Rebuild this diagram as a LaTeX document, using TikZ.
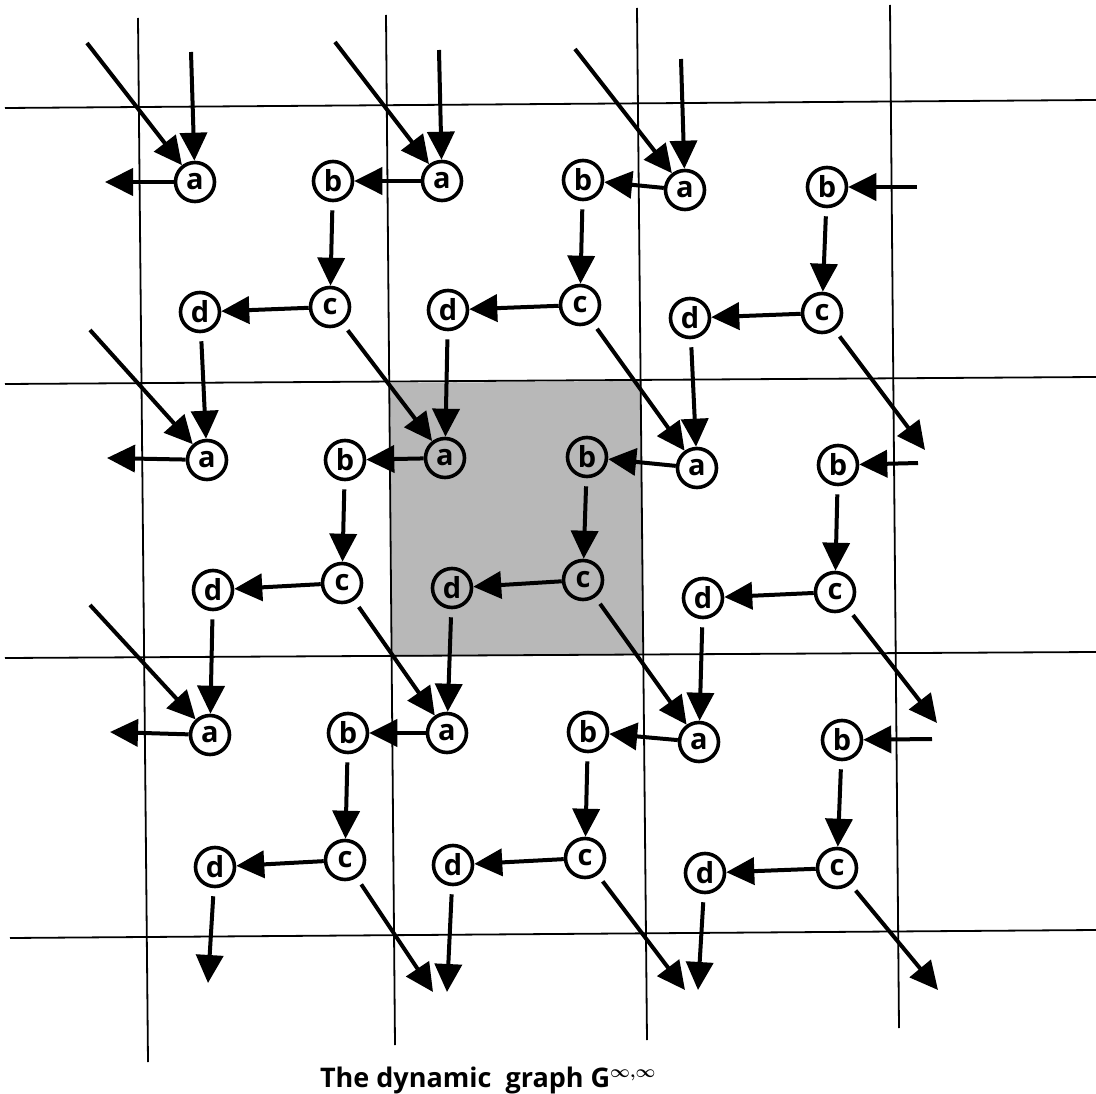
\documentclass[tikz,border=0pt]{standalone}
\usepackage{fontspec}
\setmainfont{Open Sans}
\usetikzlibrary{arrows.meta}
\begin{document}
\begin{tikzpicture}[x=1pt,y=-1pt,
  vx/.style={circle,draw,line width=3.6pt,minimum size=39pt,inner sep=0pt,font=\bfseries\fontsize{29}{29}\selectfont},
  edge/.style={line width=4pt,-{Triangle[length=28pt 0 0,width=27pt 0 0]}},
  gap/.style={shorten <=8pt},
  gridline/.style={line width=1.8pt},
  shade/.style={fill=black!28}]
\useasboundingbox (0,0) rectangle (1096,1094);
% shaded cell
\fill[shade] (390,383) -- (641,381) -- (643,655) -- (392,657) -- cycle;
% grid
\draw[gridline] (138,18) -- (148,1062);
\draw[gridline] (386,15) -- (395,1045);
\draw[gridline] (637,8) -- (647,1040);
\draw[gridline] (890,5) -- (899,1028);
\draw[gridline] (5,108) -- (1096,100);
\draw[gridline] (5,384) -- (1096,377);
\draw[gridline] (5,658) -- (1096,652);
\draw[gridline] (10,938) -- (1096,930);
% nodes
\node[vx] (a1) at (195,182) {a};
\node[vx] (b1) at (333,181) {b};
\node[vx] (a2) at (442,181) {a};
\node[vx] (b2) at (583,180) {b};
\node[vx] (a3) at (685,190) {a};
\node[vx] (b3) at (827,187) {b};
\node[vx] (d1) at (200,312) {d};
\node[vx] (c1) at (330,307) {c};
\node[vx] (d2) at (448,310) {d};
\node[vx] (c2) at (580,305) {c};
\node[vx] (d3) at (690,318) {d};
\node[vx] (c3) at (822,313) {c};
\node[vx] (a4) at (207,460) {a};
\node[vx] (b4) at (345,460) {b};
\node[vx] (a5) at (445,458) {a};
\node[vx] (b5) at (587,457) {b};
\node[vx] (a6) at (697,468) {a};
\node[vx] (b6) at (838,465) {b};
\node[vx] (d4) at (213,590) {d};
\node[vx] (c4) at (342,583) {c};
\node[vx] (d5) at (452,588) {d};
\node[vx] (c5) at (583,580) {c};
\node[vx] (d6) at (703,598) {d};
\node[vx] (c6) at (835,592) {c};
\node[vx] (a7) at (210,735) {a};
\node[vx] (b7) at (348,733) {b};
\node[vx] (a8) at (447,733) {a};
\node[vx] (b8) at (588,732) {b};
\node[vx] (a9) at (699,742) {a};
\node[vx] (b9) at (842,740) {b};
\node[vx] (d7) at (215,867) {d};
\node[vx] (c7) at (345,860) {c};
\node[vx] (d8) at (453,865) {d};
\node[vx] (c8) at (585,858) {c};
\node[vx] (d9) at (705,873) {d};
\node[vx] (c9) at (837,868) {c};
% free ends
\coordinate (va1) at (191,52);
\coordinate (va2) at (439,50);
\coordinate (va3) at (681,59);
\coordinate (da1) at (87,43);
\coordinate (da2) at (335,42);
\coordinate (da3) at (575,49);
\coordinate (da4) at (90,330);
\coordinate (da7) at (90,605);
\coordinate (la1) at (105,182);
\coordinate (la4) at (107,458);
\coordinate (la7) at (110,732);
\coordinate (rb3) at (917,187);
\coordinate (rb6) at (918,463);
\coordinate (rb9) at (932,739);
\coordinate (oc3) at (925,450);
\coordinate (oc6) at (937,723);
\coordinate (od7) at (208,983);
\coordinate (od8) at (447,992);
\coordinate (od9) at (698,990);
\coordinate (oc7) at (433,992);
\coordinate (oc8) at (685,990);
\coordinate (oc9) at (938,990);
% incoming from outside
\foreach \s/\t in {va1/a1,va2/a2,va3/a3,da1/a1,da2/a2,da3/a3,da4/a4,da7/a7,rb3/b3,rb6/b6,rb9/b9}
  \draw[edge] (\s) -- (\t);
% a -> b (left)
\foreach \s/\t in {a2/b1,a3/b2,a5/b4,a6/b5,a8/b7,a9/b8,a1/la1,a4/la4,a7/la7}
  \draw[edge] (\s) -- (\t);
% c -> d (left)
\foreach \s/\t in {c1/d1,c2/d2,c3/d3,c4/d4,c5/d5,c6/d6,c7/d7,c8/d8,c9/d9}
  \draw[edge] (\s) -- (\t);
% b -> c, d -> a, c -> a (with gap at start)
\foreach \s/\t in {b1/c1,b2/c2,b3/c3,b4/c4,b5/c5,b6/c6,b7/c7,b8/c8,b9/c9,
                   d1/a4,d2/a5,d3/a6,d4/a7,d5/a8,d6/a9,d7/od7,d8/od8,d9/od9,
                   c1/a5,c2/a6,c4/a8,c5/a9,c3/oc3,c6/oc6,c7/oc7,c8/oc8,c9/oc9}
  \draw[edge,gap] (\s) -- (\t);
% caption
\node[font=\bfseries\fontsize{27}{27}\selectfont, anchor=base] (cap) at (488,1087)
  {The dynamic\ \ graph G{\boldmath$^{\infty,\infty}$}};
\end{tikzpicture}
\end{document}
